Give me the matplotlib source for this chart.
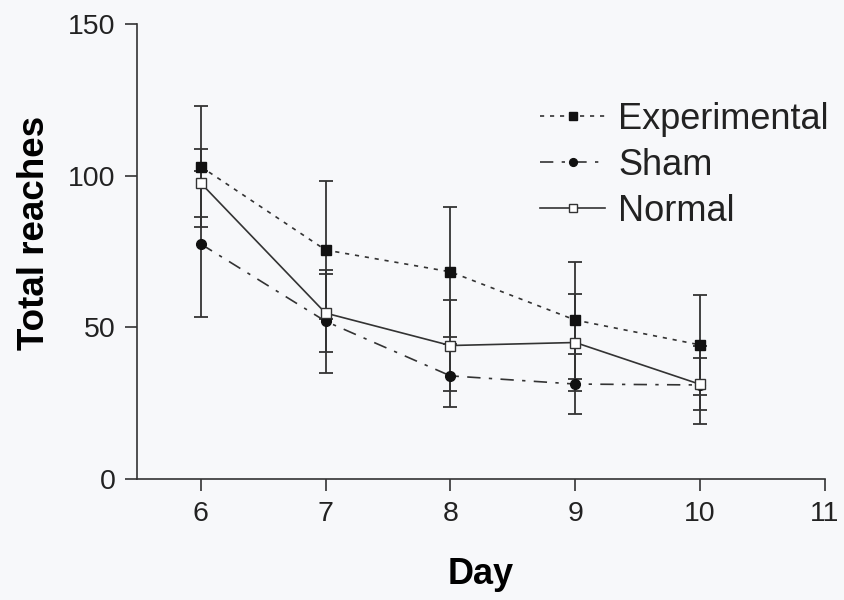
import matplotlib
matplotlib.use("Agg")
import matplotlib.pyplot as plt

# values
days = [6, 7, 8, 9, 10]
experimental = [103, 75.5, 68.3, 52.4, 44.2]
experimental_err = [20, 22.7, 21.5, 19.3, 16.5]
sham = [77.5, 52, 34, 31.3, 31]
sham_err = [24, 17, 10.4, 10, 13]
normal = [97.6, 54.7, 44, 45, 31.2]
normal_err = [11.2, 12.9, 15, 16, 8.6]

plt.rcParams['font.family'] = ['Liberation Sans', 'DejaVu Sans']
bg = '#f7f8fa'
ink = '#333333'

fig = plt.figure(figsize=(8.44, 6.0), dpi=100, facecolor=bg)
ax = fig.add_axes([137/844, 121/600, (825-137)/844, (479-24)/600])
ax.set_facecolor(bg)

# error bars first so the markers sit on top
for y, e in [(experimental, experimental_err), (sham, sham_err), (normal, normal_err)]:
    ax.errorbar(days, y, yerr=e, fmt='none', ecolor=ink, elinewidth=1.3,
                capsize=5, capthick=1.3, zorder=2)

ax.plot(days, experimental, color=ink, lw=1.2, linestyle=(0, (2.5, 3.5)),
        marker='s', ms=7, mfc='#111111', mec='#111111', label='Experimental', zorder=3)
ax.plot(days, sham, color=ink, lw=1.2, linestyle=(0, (8, 5, 2, 5)),
        marker='o', ms=7, mfc='#111111', mec='#111111', label='Sham', zorder=3)
ax.plot(days, normal, color=ink, lw=1.2, linestyle='-',
        marker='s', ms=7.5, mfc='white', mec=ink, mew=1.0, label='Normal', zorder=4)

ax.set_xlim(5.49, 11)
ax.set_ylim(0, 150)
ax.set_xticks([6, 7, 8, 9, 10, 11])
ax.set_yticks([0, 50, 100, 150])
ax.spines['top'].set_visible(False)
ax.spines['right'].set_visible(False)
for s in ['left', 'bottom']:
    ax.spines[s].set_color(ink)
    ax.spines[s].set_linewidth(1.2)
ax.tick_params(direction='out', length=8.5, width=1.2, color=ink,
               labelsize=20.5, labelcolor='#222222', pad=7)

ax.set_xlabel('Day', fontsize=26, fontweight='bold', labelpad=22)
ax.set_ylabel('Total reaches', fontsize=26.5, fontweight='bold')
ax.yaxis.set_label_coords(-0.123, 0.54)

leg = ax.legend(loc='upper left', bbox_to_anchor=(540/844, 1 - 102/600),
                bbox_transform=fig.transFigure, frameon=False, fontsize=26,
                handlelength=1.8, handletextpad=0.36, labelspacing=0.3,
                borderpad=0, borderaxespad=0, markerscale=0.8)
for t in leg.get_texts():
    t.set_color('#222222')

fig.savefig('out.png', dpi=100, facecolor=bg)
